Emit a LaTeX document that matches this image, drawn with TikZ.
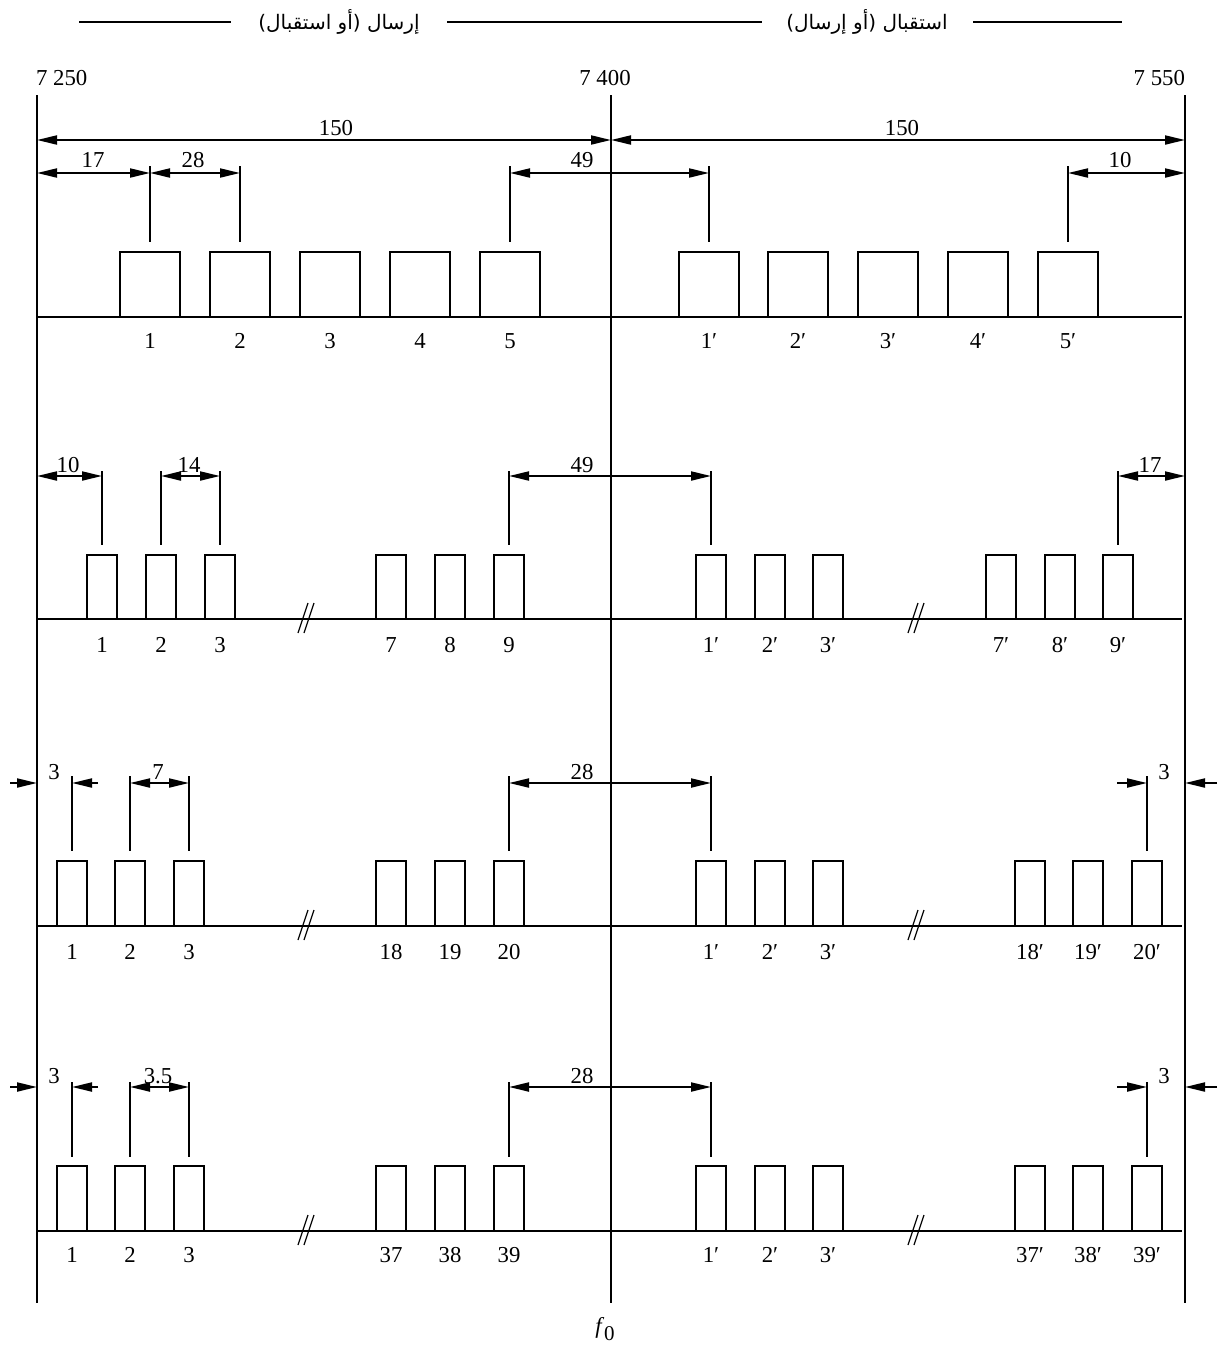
\documentclass[tikz,border=0pt]{standalone}
\usepackage{fontspec}
\setmainfont{Liberation Serif}
\newfontfamily\arabicfont[Script=Arabic]{DejaVu Sans}
\TeXXeTstate=1
\usetikzlibrary{arrows.meta}

\begin{document}
\begin{tikzpicture}[
        x=0.5pt, y=-0.5pt, line width=1pt,
        lbl/.style={font=\fontsize{11.4}{13}\selectfont, inner sep=0pt, anchor=base},
        hdr/.style={font=\arabicfont\fontsize{10}{12}\selectfont, inner sep=0pt},
        dimline/.style={{Triangle[length=10pt,width=4.5pt]}-{Triangle[length=10pt,width=4.5pt]}},
        halfdim/.style={-{Triangle[length=10pt,width=4.5pt]}},
        brk/.style={line width=0.6pt}
    ]
    \useasboundingbox (0,0) rectangle (1218,1350);

    % ---- Header and band edges ----
    \node[hdr] (txL) at (339,22) {\beginR إرسال (أو استقبال)\endR};
    \node[hdr] (txR) at (867,22) {\beginR استقبال (أو إرسال)\endR};
    \draw (79,22) -- (231,22); \draw (447,22) -- (762,22); \draw (973,22) -- (1122,22);

    \node[lbl, anchor=base west] (fA) at (35,85) {7~250};
    \node[lbl] (fB) at (605,85) {7~400};
    \node[lbl, anchor=base east] (fC) at (1186,85) {7~550};
    \draw (37,95) -- (37,1303);
    \draw (611,95) -- (611,1303);
    \draw (1185,95) -- (1185,1303);
    \node[lbl] (f0) at (605,1333) {\textit{f}\raisebox{-0.7ex}{\fontsize{10.5}{12}\selectfont 0}};

    % ---- Row 1: five wide channels each side ----
    \draw[dimline] (37,140) -- (611,140);   \node[lbl] (wL) at (336,135) {150};
    \draw[dimline] (611,140) -- (1185,140); \node[lbl] (wR) at (902,135) {150};
    \draw[dimline] (37,173) -- (150,173);   \node[lbl] (a17) at (93,167) {17};
    \draw[dimline] (150,173) -- (240,173);  \node[lbl] (a28) at (193,167) {28};
    \draw[dimline] (510,173) -- (709,173);  \node[lbl] (a49) at (582,167) {49};
    \draw[dimline] (1068,173) -- (1185,173); \node[lbl] (a10) at (1120,167) {10};
    \foreach \x in {150,240,510,709,1068} \draw (\x,166) -- (\x,242);
    \draw (37,317) -- (1182,317);
    \foreach \c/\t in {150/1,240/2,330/3,420/4,510/5,709/1′,798/2′,888/3′,978/4′,1068/5′} {
        \draw (\c-30,317) |- (\c+30,252) -- (\c+30,317);
        \node[lbl] (ch1-\c) at (\c,348) {\t};
    }

    % ---- Row 2: nine channels each side ----
    \draw[dimline] (37,476) -- (102,476);    \node[lbl] (b10) at (68,472) {10};
    \draw[dimline] (161,476) -- (220,476);   \node[lbl] (b14) at (189,472) {14};
    \draw[dimline] (509,476) -- (711,476);   \node[lbl] (b49) at (582,472) {49};
    \draw[dimline] (1118,476) -- (1185,476); \node[lbl] (b17) at (1150,472) {17};
    \foreach \x in {102,161,220,509,711,1118} \draw (\x,471) -- (\x,545);
    \draw (37,619) -- (1182,619);
    \foreach \c/\t in {102/1,161/2,220/3,391/7,450/8,509/9,711/1′,770/2′,828/3′,1001/7′,1060/8′,1118/9′} {
        \draw (\c-15,619) |- (\c+15,555) -- (\c+15,619);
        \node[lbl] (ch2-\c) at (\c,652) {\t};
    }
    \foreach \b in {307,917} {
        \draw[brk] (\b-9,633) -- (\b+1,603); \draw[brk] (\b-3,633) -- (\b+7,603);
    }

    % ---- Row 3: twenty channels each side ----
    \draw[halfdim] (10,783) -- (37,783); \draw[halfdim] (98,783) -- (72,783);
    \node[lbl] (c3L) at (54,779) {3};
    \draw[dimline] (130,783) -- (189,783);   \node[lbl] (c7) at (158,779) {7};
    \draw[dimline] (509,783) -- (711,783);   \node[lbl] (c28) at (582,779) {28};
    \draw[halfdim] (1117,783) -- (1147,783); \draw[halfdim] (1217,783) -- (1185,783);
    \node[lbl] (c3R) at (1164,779) {3};
    \foreach \x in {72,130,189,509,711,1147} \draw (\x,776) -- (\x,851);
    \draw (37,926) -- (1182,926);
    \foreach \c/\t in {72/1,130/2,189/3,391/18,450/19,509/20,711/1′,770/2′,828/3′,1030/18′,1088/19′,1147/20′} {
        \draw (\c-15,926) |- (\c+15,861) -- (\c+15,926);
        \node[lbl] (ch3-\c) at (\c,959) {\t};
    }
    \foreach \b in {307,917} {
        \draw[brk] (\b-9,940) -- (\b+1,910); \draw[brk] (\b-3,940) -- (\b+7,910);
    }

    % ---- Row 4: thirty-nine channels each side ----
    \draw[halfdim] (10,1087) -- (37,1087); \draw[halfdim] (98,1087) -- (72,1087);
    \node[lbl] (d3L) at (54,1083) {3};
    \draw[dimline] (130,1087) -- (189,1087);   \node[lbl] (d35) at (158,1083) {3.5};
    \draw[dimline] (509,1087) -- (711,1087);   \node[lbl] (d28) at (582,1083) {28};
    \draw[halfdim] (1117,1087) -- (1147,1087); \draw[halfdim] (1217,1087) -- (1185,1087);
    \node[lbl] (d3R) at (1164,1083) {3};
    \foreach \x in {72,130,189,509,711,1147} \draw (\x,1082) -- (\x,1157);
    \draw (37,1231) -- (1182,1231);
    \foreach \c/\t in {72/1,130/2,189/3,391/37,450/38,509/39,711/1′,770/2′,828/3′,1030/37′,1088/38′,1147/39′} {
        \draw (\c-15,1231) |- (\c+15,1166) -- (\c+15,1231);
        \node[lbl] (ch4-\c) at (\c,1262) {\t};
    }
    \foreach \b in {307,917} {
        \draw[brk] (\b-9,1245) -- (\b+1,1215); \draw[brk] (\b-3,1245) -- (\b+7,1215);
    }
\end{tikzpicture}
\end{document}
